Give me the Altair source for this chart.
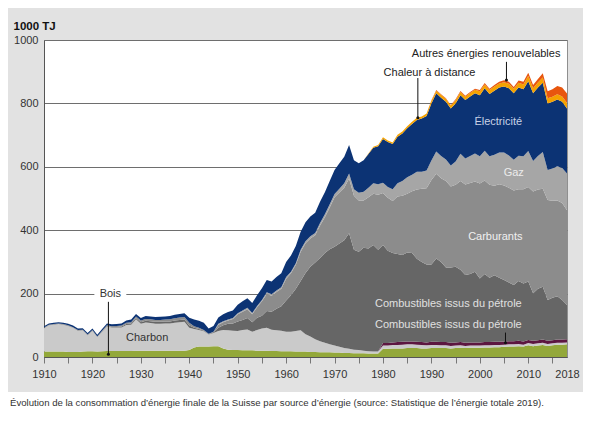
import pandas as pd
import altair as alt

# consommation d'énergie finale, Suisse, 1000 TJ
years = list(range(1910, 2019))

bois = [
    17, 17, 17, 17, 17, 16, 16, 16, 17, 18,
    18, 17, 18, 19, 19, 19, 19, 19, 19, 20,
    20, 20, 20, 20, 20, 20, 20, 20, 20, 20,
    22, 30, 33, 33, 33, 34, 34, 27, 23, 22,
    22, 21, 21, 21, 20, 20, 20, 19, 19, 18,
    18, 18, 17, 17, 17, 16, 16, 15, 15, 15,
    14, 14, 13, 13, 12, 12, 12, 11, 11, 11,
    26, 26, 27, 27, 27, 28, 28, 28, 27, 27,
    28, 28, 28, 28, 27, 28, 29, 28, 29, 29,
    29, 30, 30, 31, 31, 32, 33, 33, 34, 33,
    37, 34, 36, 38, 35, 37, 39, 39, 40]

charbon = [
    74, 83, 85, 87, 85, 82, 76, 67, 67, 51,
    65, 46, 62, 77, 74, 74, 74, 82, 83, 99,
    85, 89, 87, 85, 85, 86, 86, 88, 90, 91,
    70, 58, 52, 48, 38, 42, 48, 58, 61, 61,
    60, 64, 66, 59, 65, 70, 72, 67, 65, 65,
    62, 62, 65, 67, 55, 49, 40, 35, 30, 25,
    22, 18, 15, 13, 11, 10, 8, 7, 6, 6,
    10, 10, 11, 11, 12, 12, 12, 11, 11, 10,
    10, 10, 9, 9, 8, 8, 8, 7, 7, 7,
    7, 7, 7, 7, 7, 7, 7, 7, 7, 6,
    7, 7, 7, 7, 6, 6, 6, 6, 6]

dechets = [
    0, 0, 0, 0, 0, 0, 0, 0, 0, 0,
    0, 0, 0, 0, 0, 0, 0, 0, 0, 0,
    0, 0, 0, 0, 0, 0, 0, 0, 0, 0,
    0, 0, 0, 0, 0, 0, 0, 0, 0, 0,
    0, 0, 0, 0, 0, 0, 0, 0, 0, 0,
    0, 0, 0, 0, 0, 0, 0, 0, 0, 0,
    0, 0, 0, 0, 0, 0, 0, 0, 0, 0,
    8, 8, 8, 9, 9, 9, 9, 9, 9, 9,
    10, 10, 10, 10, 10, 10, 10, 10, 10, 10,
    10, 10, 10, 10, 10, 10, 10, 10, 10, 10,
    10, 10, 10, 10, 10, 10, 10, 10, 10]

petrole = [
    1, 1, 1, 1, 1, 1, 1, 1, 1, 1,
    1, 1, 1, 2, 2, 2, 3, 3, 4, 4,
    5, 5, 6, 6, 6, 6, 6, 7, 7, 7,
    7, 4, 3, 2, 1, 2, 10, 15, 21, 23,
    30, 32, 36, 30, 39, 40, 53, 57, 68, 77,
    98, 115, 133, 156, 193, 220, 242, 262, 283, 300,
    312, 326, 340, 364, 315, 310, 325, 324, 336, 321,
    309, 291, 282, 278, 274, 281, 279, 262, 253, 246,
    244, 263, 253, 235, 237, 239, 228, 214, 216, 223,
    202, 215, 203, 210, 202, 194, 185, 177, 189, 183,
    184, 150, 162, 167, 129, 134, 137, 125, 108]

carburants = [
    1, 1, 1, 1, 1, 1, 1, 1, 1, 1,
    1, 1, 2, 2, 2, 3, 3, 4, 4, 5,
    5, 6, 6, 6, 6, 6, 7, 7, 8, 8,
    9, 5, 4, 2, 1, 2, 10, 10, 10, 14,
    23, 26, 28, 25, 33, 46, 54, 50, 53, 55,
    69, 69, 76, 92, 94, 89, 86, 103, 113, 132,
    156, 161, 166, 173, 171, 162, 149, 162, 162, 174,
    164, 167, 164, 181, 187, 185, 195, 218, 231, 240,
    266, 267, 264, 273, 256, 258, 280, 285, 287, 285,
    299, 295, 293, 282, 295, 298, 299, 298, 289, 297,
    298, 321, 313, 309, 315, 306, 302, 306, 299]

gaz = [
    0, 0, 0, 0, 0, 0, 0, 0, 0, 0,
    0, 0, 0, 0, 0, 0, 0, 0, 0, 0,
    0, 0, 0, 0, 0, 0, 0, 0, 0, 0,
    0, 0, 0, 0, 0, 0, 3, 3, 3, 3,
    3, 4, 4, 4, 4, 4, 5, 5, 5, 5,
    5, 5, 5, 6, 6, 7, 7, 8, 9, 10,
    10, 12, 14, 16, 20, 24, 27, 30, 33, 33,
    33, 34, 37, 42, 46, 52, 52, 56, 53, 56,
    62, 70, 70, 68, 66, 74, 86, 82, 85, 88,
    86, 94, 90, 98, 100, 104, 102, 97, 106, 104,
    114, 96, 106, 116, 95, 102, 108, 110, 116]

electricite = [
    4, 4, 4, 4, 4, 5, 5, 5, 5, 5,
    5, 5, 5, 6, 6, 6, 7, 7, 8, 8,
    8, 9, 9, 9, 10, 10, 10, 11, 11, 12,
    16, 21, 22, 23, 17, 18, 20, 22, 24, 24,
    27, 29, 30, 31, 34, 37, 39, 40, 42, 44,
    48, 51, 54, 57, 60, 62, 64, 67, 70, 73,
    76, 80, 84, 90, 92, 93, 100, 106, 112, 120,
    138, 142, 143, 147, 150, 155, 160, 164, 168, 172,
    180, 184, 184, 182, 180, 183, 185, 185, 188, 190,
    193, 197, 197, 202, 205, 208, 212, 210, 215, 212,
    220, 214, 216, 218, 210, 210, 210, 209, 205]

chaleur = [
    0, 0, 0, 0, 0, 0, 0, 0, 0, 0,
    0, 0, 0, 0, 0, 0, 0, 0, 0, 0,
    0, 0, 0, 0, 0, 0, 0, 0, 0, 0,
    0, 0, 0, 0, 0, 0, 0, 0, 0, 0,
    0, 0, 0, 0, 0, 0, 0, 0, 0, 0,
    0, 0, 0, 0, 0, 0, 0, 0, 0, 0,
    0, 0, 0, 0, 0, 0, 0, 2, 3, 4,
    5, 5, 5, 6, 6, 6, 7, 7, 7, 8,
    8, 8, 9, 9, 9, 10, 10, 10, 11, 11,
    12, 12, 12, 13, 13, 14, 14, 14, 15, 15,
    17, 16, 16, 17, 16, 16, 17, 17, 17]

autres = [
    0, 0, 0, 0, 0, 0, 0, 0, 0, 0,
    0, 0, 0, 0, 0, 0, 0, 0, 0, 0,
    0, 0, 0, 0, 0, 0, 0, 0, 0, 0,
    0, 0, 0, 0, 0, 0, 0, 0, 0, 0,
    0, 0, 0, 0, 0, 0, 0, 0, 0, 0,
    0, 0, 0, 0, 0, 0, 0, 0, 0, 0,
    0, 0, 0, 0, 0, 0, 0, 0, 0, 0,
    0, 0, 0, 0, 0, 0, 0, 0, 0, 0,
    2, 2, 2, 2, 2, 3, 3, 3, 3, 3,
    4, 4, 4, 5, 5, 6, 6, 6, 7, 8,
    10, 10, 11, 13, 22, 24, 26, 28, 30]

# stacking order bottom -> top
keys = ["bois", "charbon", "dechets", "petrole", "carburants",
        "gaz", "electricite", "chaleur", "autres"]
values = [bois, charbon, dechets, petrole, carburants,
          gaz, electricite, chaleur, autres]
colors = ["#93a83a", "#cacaca", "#5c1640", "#666666", "#8c8c8c",
          "#a6a6a6", "#0c3374", "#f5a200", "#e8560e"]

rows = []
for k, (key, vals) in enumerate(zip(keys, values)):
    for yr, v in zip(years, vals):
        rows.append({"annee": yr, "valeur": v, "source": key, "ordre": k})
df = pd.DataFrame(rows)

# labels
lab_text = ["Autres énergies renouvelables", "Chaleur à distance", "Électricité",
            "Gaz", "Carburants", "Combustibles issus du pétrole",
            "Combustibles issus du pétrole", "Charbon", "Bois"]
lab_x = [2001.3, 1989.6, 2003.8, 2007.0, 2003.2, 1993.5, 1993.5, 1931.3, 1923.7]
lab_y = [956, 897, 742, 581, 378, 167, 101, 59, 199]
lab_col = ["#222222", "#222222", "#c9d2e6", "#ececec", "#f0f0f0",
           "#e0e0e0", "#e0e0e0", "#333333", "#333333"]

ptr_x = [2005.5, 1987.2, 2005.3, 1923.3]
ptr_y1 = [931, 880, 77, 174]
ptr_y2 = [874, 755, 45, 9]

caption = ("Évolution de la consommation d’énergie finale de la Suisse par source "
           "d’énergie (source: Statistique de l’énergie totale 2019).")

bg = "#e2e2e2"
font = "Liberation Sans"
W, H = 523, 317

xscale = alt.Scale(domain=[1910, 2018], nice=False, zero=False)
yscale = alt.Scale(domain=[0, 1000], nice=False)
xaxis = alt.Axis(values=list(range(1910, 2016, 5)) + [2018], format="d",
                 labelExpr="(datum.value % 10 == 0 || datum.value == 2018) ? datum.label : ''",
                 labelFlush=False, labelOverlap=False,
                 tickSize=6, tickColor="#777777",
                 tickOpacity={"condition": {"test": "datum.value == 2018", "value": 0}, "value": 1},
                 domainColor="#555555", labelPadding=5, grid=False,
                 labelFontSize=11, labelColor="#333333", labelFont=font)
yaxis = alt.Axis(values=[0, 200, 400, 600, 800, 1000], format="d", ticks=False,
                 labelPadding=6, labelFlush=False,
                 grid=True, gridColor="#6e6e6e", gridWidth=1, domainColor="#555555",
                 labelFontSize=11, labelColor="#333333", labelFont=font,
                 titleAngle=0, titleAlign="left", titleBaseline="middle",
                 titleX=-31, titleY=-14, titleFontSize=11.5, titleFontWeight="bold",
                 titleColor="#111111", titleFont=font)


def X(field):
    return alt.X(field, type="quantitative", scale=xscale, axis=xaxis, title=None)


def Y(field, **kw):
    return alt.Y(field, type="quantitative", scale=yscale, axis=yaxis, title="1000 TJ", **kw)


# white gap in the 200 gridline behind "Bois"
gap = alt.Chart(pd.DataFrame({"annee": [1920.4], "a2": [1927.0],
                              "valeur": [188], "v2": [211]})).mark_rect(color="white").encode(
    x=X("annee"), x2="a2:Q", y=Y("valeur"), y2="v2:Q")

areas = alt.Chart(df).mark_area(interpolate="linear").encode(
    x=X("annee"),
    y=Y("valeur", stack="zero"),
    color=alt.Color("source:N", scale=alt.Scale(domain=keys, range=colors), legend=None),
    order=alt.Order("ordre:Q", sort="ascending"),
)

ptr_df = pd.DataFrame({"annee": ptr_x, "valeur": ptr_y1, "v2": ptr_y2})
pointers = alt.Chart(ptr_df).mark_rule(color="#111111", strokeWidth=1).encode(
    x=X("annee"), y=Y("valeur"), y2="v2:Q")
dots = alt.Chart(ptr_df).mark_circle(size=9, color="#111111", opacity=1).encode(
    x=X("annee"), y=Y("v2"))

lab_df = pd.DataFrame({"annee": lab_x, "valeur": lab_y, "t": lab_text, "c": lab_col})
labels = alt.Chart(lab_df).mark_text(font=font, fontSize=11, align="center",
                                     baseline="middle").encode(
    x=X("annee"), y=Y("valeur"), text="t:N", color=alt.Color("c:N", scale=None))

one = pd.DataFrame({"t": [caption]})
strip = alt.Chart(one).mark_rect(color="white").encode(
    x=alt.value(-36), x2=alt.value(W + 16), y=alt.value(H + 35), y2=alt.value(H + 52))
cap = alt.Chart(one).mark_text(font=font, fontSize=9.6, color="#333333", align="left",
                               baseline="middle").encode(
    x=alt.value(-34), y=alt.value(H + 46), text="t:N")
pin = alt.Chart(one).mark_rect(color=bg).encode(
    x=alt.value(W - 20), x2=alt.value(W + 16), y=alt.value(-32), y2=alt.value(-30))

chart = alt.layer(gap, areas, pointers, dots, labels, strip, cap, pin).properties(
    width=W, height=H, padding=0,
).configure(background=bg).configure_view(fill="white", stroke="#8f8f8f", strokeWidth=1)

chart.save("out.html", embed_options={"renderer": "svg", "actions": False})
